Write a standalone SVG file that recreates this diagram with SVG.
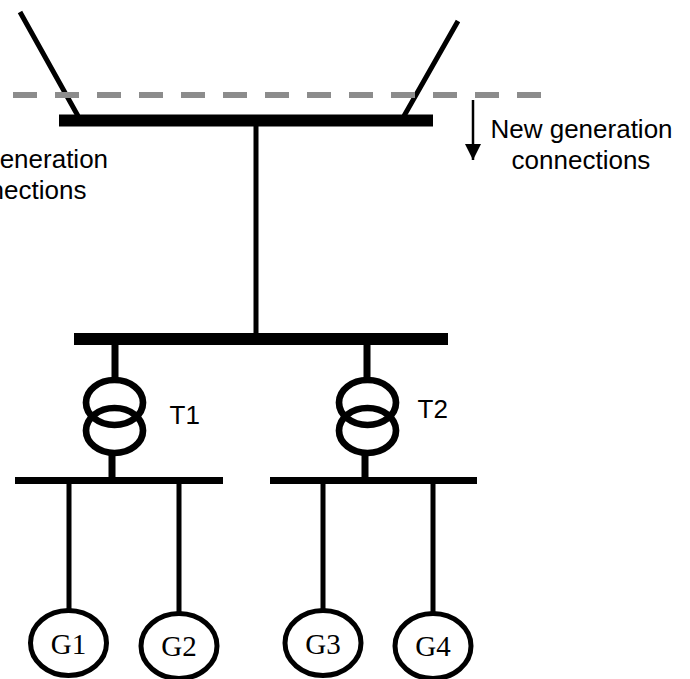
<svg xmlns="http://www.w3.org/2000/svg" width="690" height="679" viewBox="0 0 690 679">
<style>
.s{font-family:"Liberation Sans",Arial,sans-serif;font-size:26px;fill:#000}
.g{font-family:"Liberation Serif","Times New Roman",serif;font-size:29px;fill:#000;text-anchor:middle}
.m{text-anchor:middle}
.l{stroke:#000;fill:none}
.c{stroke:#000;stroke-width:6.700;fill:none}
.e{stroke:#000;stroke-width:5;fill:#fff}
</style>
<defs><marker id="arr" markerUnits="userSpaceOnUse" markerWidth="16" markerHeight="16" refX="16" refY="8" orient="auto"><path d="M0 0L16 8L0 16Z" fill="#000"/></marker></defs>
<rect width="690" height="679" fill="#fff"/>
<g id="connectors">
<path class="l" stroke-width="5" d="M20 12L78 116M458 21L404 116"/>
<path d="M13 95H542" fill="none" stroke="#8c8c8c" stroke-width="6" stroke-dasharray="24 18"/>
<path class="l" stroke-width="2.500" d="M473 100V160" marker-end="url(#arr)"/>
<path class="l" stroke-width="5" d="M256 126V335M69 484V611M179 484V613M323 484V611M433 484V613"/>
<path class="l" stroke-width="7" d="M115 345V380M112 455V478M367 345V380M365 455V478"/>
</g>
<g id="bus-top"><rect x="59" y="114.500" width="374" height="12"/></g>
<g id="bus-middle"><rect x="74" y="333" width="374" height="12"/></g>
<g id="bus-left"><rect x="15" y="477" width="208" height="7"/></g>
<g id="bus-right"><rect x="270" y="477" width="207" height="7"/></g>
<g id="T1"><ellipse class="c" cx="114.500" cy="402.500" rx="28.500" ry="22.500"/><ellipse class="c" cx="114.500" cy="430.500" rx="28.500" ry="22.500"/><text class="s" x="169.500" y="424">T1</text></g>
<g id="T2"><ellipse class="c" cx="367.500" cy="402.500" rx="28.500" ry="22.500"/><ellipse class="c" cx="367.500" cy="430.500" rx="28.500" ry="22.500"/><text class="s" x="417.500" y="418">T2</text></g>
<g id="G1"><ellipse class="e" cx="68.500" cy="643" rx="38" ry="32.500"/><text class="g" x="68.500" y="654">G1</text></g>
<g id="G2"><ellipse class="e" cx="179" cy="646" rx="38" ry="32.500"/><text class="g" x="179" y="656">G2</text></g>
<g id="G3"><ellipse class="e" cx="323" cy="643" rx="38" ry="32.500"/><text class="g" x="323" y="654">G3</text></g>
<g id="G4"><ellipse class="e" cx="433" cy="646" rx="38" ry="32.500"/><text class="g" x="433" y="656">G4</text></g>
<g id="label-left"><text class="s m" x="17" y="168">New generation</text><text class="s m" x="17" y="199">connections</text></g>
<g id="label-right"><text class="s m" x="581.500" y="138">New generation</text><text class="s m" x="581" y="169">connections</text></g>
</svg>
